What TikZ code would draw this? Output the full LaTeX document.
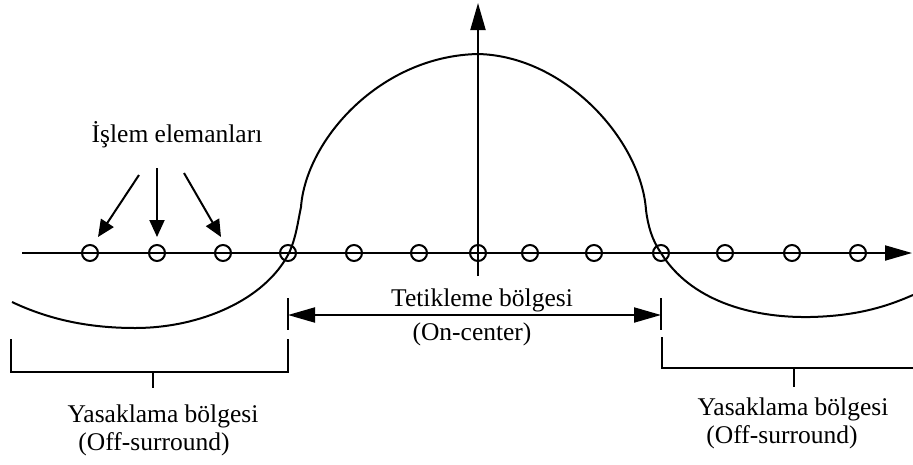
\documentclass[tikz,border=0pt]{standalone}
\usepackage{fontspec}
\setmainfont{Liberation Serif}
\usetikzlibrary{arrows.meta}
\begin{document}
\begin{tikzpicture}[x=1pt,y=-1pt,
  ln/.style={line width=2pt},
  bigarrow/.style={ln,-{Triangle[length=27pt,width=15pt]}},
  twoarrow/.style={ln,{Triangle[length=27pt,width=15pt]}-{Triangle[length=27pt,width=15pt]}},
  smallarrow/.style={ln,-{Triangle[length=17pt,width=15pt]}},
  unit/.style={circle,draw,line width=2pt,minimum size=16pt,inner sep=0pt},
  lbl/.style={font=\fontsize{25.5}{30}\selectfont,anchor=base,inner sep=0pt}]
\useasboundingbox (0,0) rectangle (913,464);
% axes
\coordinate (xs) at (22,253);
\coordinate (xe) at (912,253);
\coordinate (ys) at (478,276);
\coordinate (ye) at (478,3);
\draw[bigarrow] (xs) -- (xe);
\draw[bigarrow] (ys) -- (ye);
% processing units
\foreach \i/\x in {1/90,2/157,3/223,4/288,5/354,6/419,7/478,8/530,9/594,10/661,11/725,12/792,13/858}
  \node[unit] (c\i) at (\x,253) {};
% response curve
\coordinate (p0) at (12,302);
\coordinate (p1) at (135,328);
\coordinate (p2) at (289,253);
\coordinate (p3) at (301,207);
\coordinate (p4) at (478,54);
\coordinate (p5) at (646,210);
\coordinate (p6) at (661,253);
\coordinate (p7) at (810,317);
\coordinate (p8) at (913,295);
\draw[ln] (p0) .. controls (50,320) and (90,328) .. (p1)
  .. controls (200,328) and (265,300) .. (p2)
  .. controls (296,238) and (298,221) .. (p3)
  .. controls (306,140) and (380,56) .. (p4)
  .. controls (565,56) and (641,140) .. (p5)
  .. controls (648,226) and (652,240) .. (p6)
  .. controls (690,300) and (750,318) .. (p7)
  .. controls (860,316) and (890,305) .. (p8);
% label for units
\node[lbl] (units) at (177,142) {İşlem elemanları};
\coordinate (a1) at (139,175); \coordinate (t1) at (98,237);
\coordinate (a2) at (157,168); \coordinate (t2) at (157,237);
\coordinate (a3) at (184,173); \coordinate (t3) at (221,237);
\draw[smallarrow] (a1) -- (t1);
\draw[smallarrow] (a2) -- (t2);
\draw[smallarrow] (a3) -- (t3);
% on-center
\coordinate (ol) at (288,298); \coordinate (olb) at (288,330);
\coordinate (or) at (661,298); \coordinate (orb) at (661,330);
\draw[ln] (ol) -- (olb);
\draw[ln] (or) -- (orb);
\coordinate (ml) at (288,315); \coordinate (mr) at (661,315);
\draw[twoarrow] (ml) -- (mr);
\node[lbl] (on1) at (482,306) {Tetikleme bölgesi};
\node[lbl] (on2) at (472,340) {(On-center)};
% left off-surround bracket
\coordinate (l1) at (11,339); \coordinate (l2) at (11,372);
\coordinate (l3) at (288,372); \coordinate (l4) at (288,339);
\coordinate (lm) at (153,372); \coordinate (lmb) at (153,388);
\draw[ln] (l1) -- (l2) -- (l3) -- (l4);
\draw[ln] (lm) -- (lmb);
\node[lbl] (off1) at (163,422) {Yasaklama bölgesi};
\node[lbl] (off2) at (154,450) {(Off-surround)};
% right off-surround bracket
\coordinate (r1) at (662,337); \coordinate (r2) at (662,368);
\coordinate (r3) at (913,368);
\coordinate (rm) at (794,368); \coordinate (rmb) at (794,387);
\draw[ln] (r1) -- (r2) -- (r3);
\draw[ln] (rm) -- (rmb);
\node[lbl] (off3) at (793,415) {Yasaklama bölgesi};
\node[lbl] (off4) at (782,443) {(Off-surround)};
\end{tikzpicture}
\end{document}
